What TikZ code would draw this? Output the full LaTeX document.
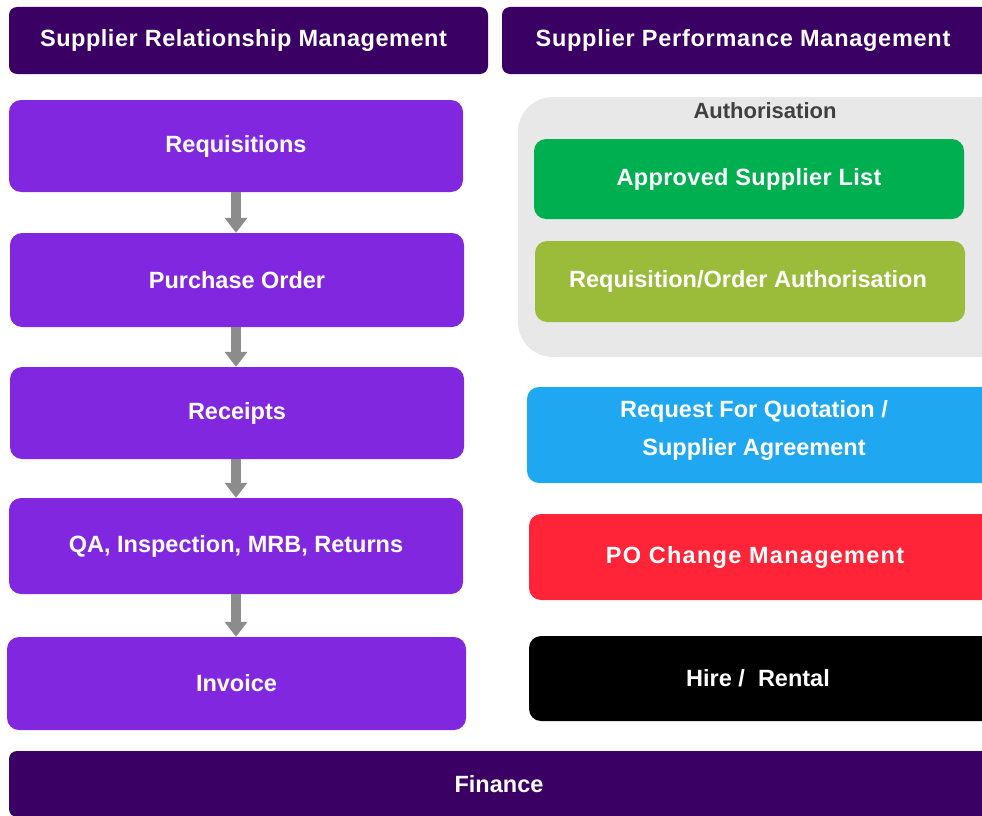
\documentclass[tikz,border=0pt]{standalone}
\usepackage{fontspec}
\setmainfont{Liberation Sans}
\usetikzlibrary{arrows.meta}
\definecolor{hdr}{HTML}{3A0063}
\definecolor{purp}{HTML}{8227E0}
\definecolor{cont}{HTML}{E8E8E8}
\definecolor{grn}{HTML}{00B050}
\definecolor{olive}{HTML}{9BBB3B}
\definecolor{sky}{HTML}{1FA7F2}
\definecolor{redb}{HTML}{FF2438}
\definecolor{arr}{HTML}{8C8C8C}
\definecolor{authtxt}{HTML}{404040}
\newcommand{\shiftx}[2]{\hspace*{#1}#2\hspace*{-#1}}
\newcommand{\spaced}[2]{{\addfontfeature{LetterSpace=#1}#2}}
\tikzset{
  lbl/.style={text=white, font=\bfseries\fontsize{23.5}{38}\selectfont, align=center, inner sep=0pt},
  basebox/.style={lbl, rectangle, rounded corners=12pt},
  hdrbox/.style={basebox, fill=hdr, rounded corners=8pt},
  purpbox/.style={basebox, fill=purp, minimum width=454pt},
  flowarrow/.style={draw=arr, line width=10pt, -{Triangle[width=22pt,length=15pt]}, arr},
}
\begin{document}
\begin{tikzpicture}[x=1pt,y=-1pt]
\clip (0,0) rectangle (982,816);
\fill[white] (0,0) rectangle (982,816);
% headers
\node[hdrbox, minimum width=479pt, minimum height=67pt] (srm) at (248.5,40.5) {\shiftx{-5pt}{\spaced{2.2}{Supplier Relationship Management}}};
\node[hdrbox, minimum width=494pt, minimum height=67pt] (spm) at (749,40.5) {\shiftx{-6pt}{\spaced{3.1}{Supplier Performance Management}}};
% left flow
\node[purpbox, minimum height=92pt] (req) at (236,146) {Requisitions};
\node[purpbox, minimum height=94pt] (po) at (237,280) {Purchase Order};
\node[purpbox, minimum height=92pt] (rec) at (237,413) {Receipts};
\node[purpbox, minimum height=96pt] (qa) at (236,546) {QA, Inspection, MRB, Returns};
\node[purpbox, minimum width=459pt, minimum height=93pt] (inv) at (236.5,683.5) {Invoice};
\draw[flowarrow] (req.south -| 236,0) -- (po.north -| 236,0);
\draw[flowarrow] (po.south -| 236,0) -- (rec.north -| 236,0);
\draw[flowarrow] (rec.south -| 236,0) -- (qa.north -| 236,0);
\draw[flowarrow] (qa.south -| 236,0) -- (inv.north -| 236,0);
% right side
\node[rectangle, fill=cont, rounded corners=35pt, minimum width=500pt, minimum height=260pt] (auth) at (768,227) {};
\node[lbl, font=\bfseries\fontsize{22}{26}\selectfont, text=authtxt] (authlbl) at (765,111) {Authorisation};
\node[basebox, fill=grn, minimum width=430pt, minimum height=80pt] (asl) at (749,179) {\spaced{1.4}{Approved Supplier List}};
\node[basebox, fill=olive, minimum width=430pt, minimum height=81pt] (roa) at (750,281.5) {\shiftx{-2pt}{Requisition/Order Authorisation}};
\node[basebox, fill=sky, minimum width=480pt, minimum height=96pt] (rfq) at (767,435) {};
\node[lbl] (rfqtxt) at (754,430) {Request For Quotation /\\Supplier Agreement};
\node[basebox, fill=redb, minimum width=480pt, minimum height=86pt] (poc) at (769,557) {\shiftx{-14pt}{\spaced{5.4}{PO Change Management}}};
\node[basebox, fill=black, minimum width=480pt, minimum height=85pt] (hire) at (769,678.5) {\shiftx{-11pt}{Hire /\ \ Rental}};
% finance
\node[hdrbox, minimum width=990pt, minimum height=66pt] (fin) at (504,784) {\shiftx{-5pt}{Finance}};
\end{tikzpicture}
\end{document}
